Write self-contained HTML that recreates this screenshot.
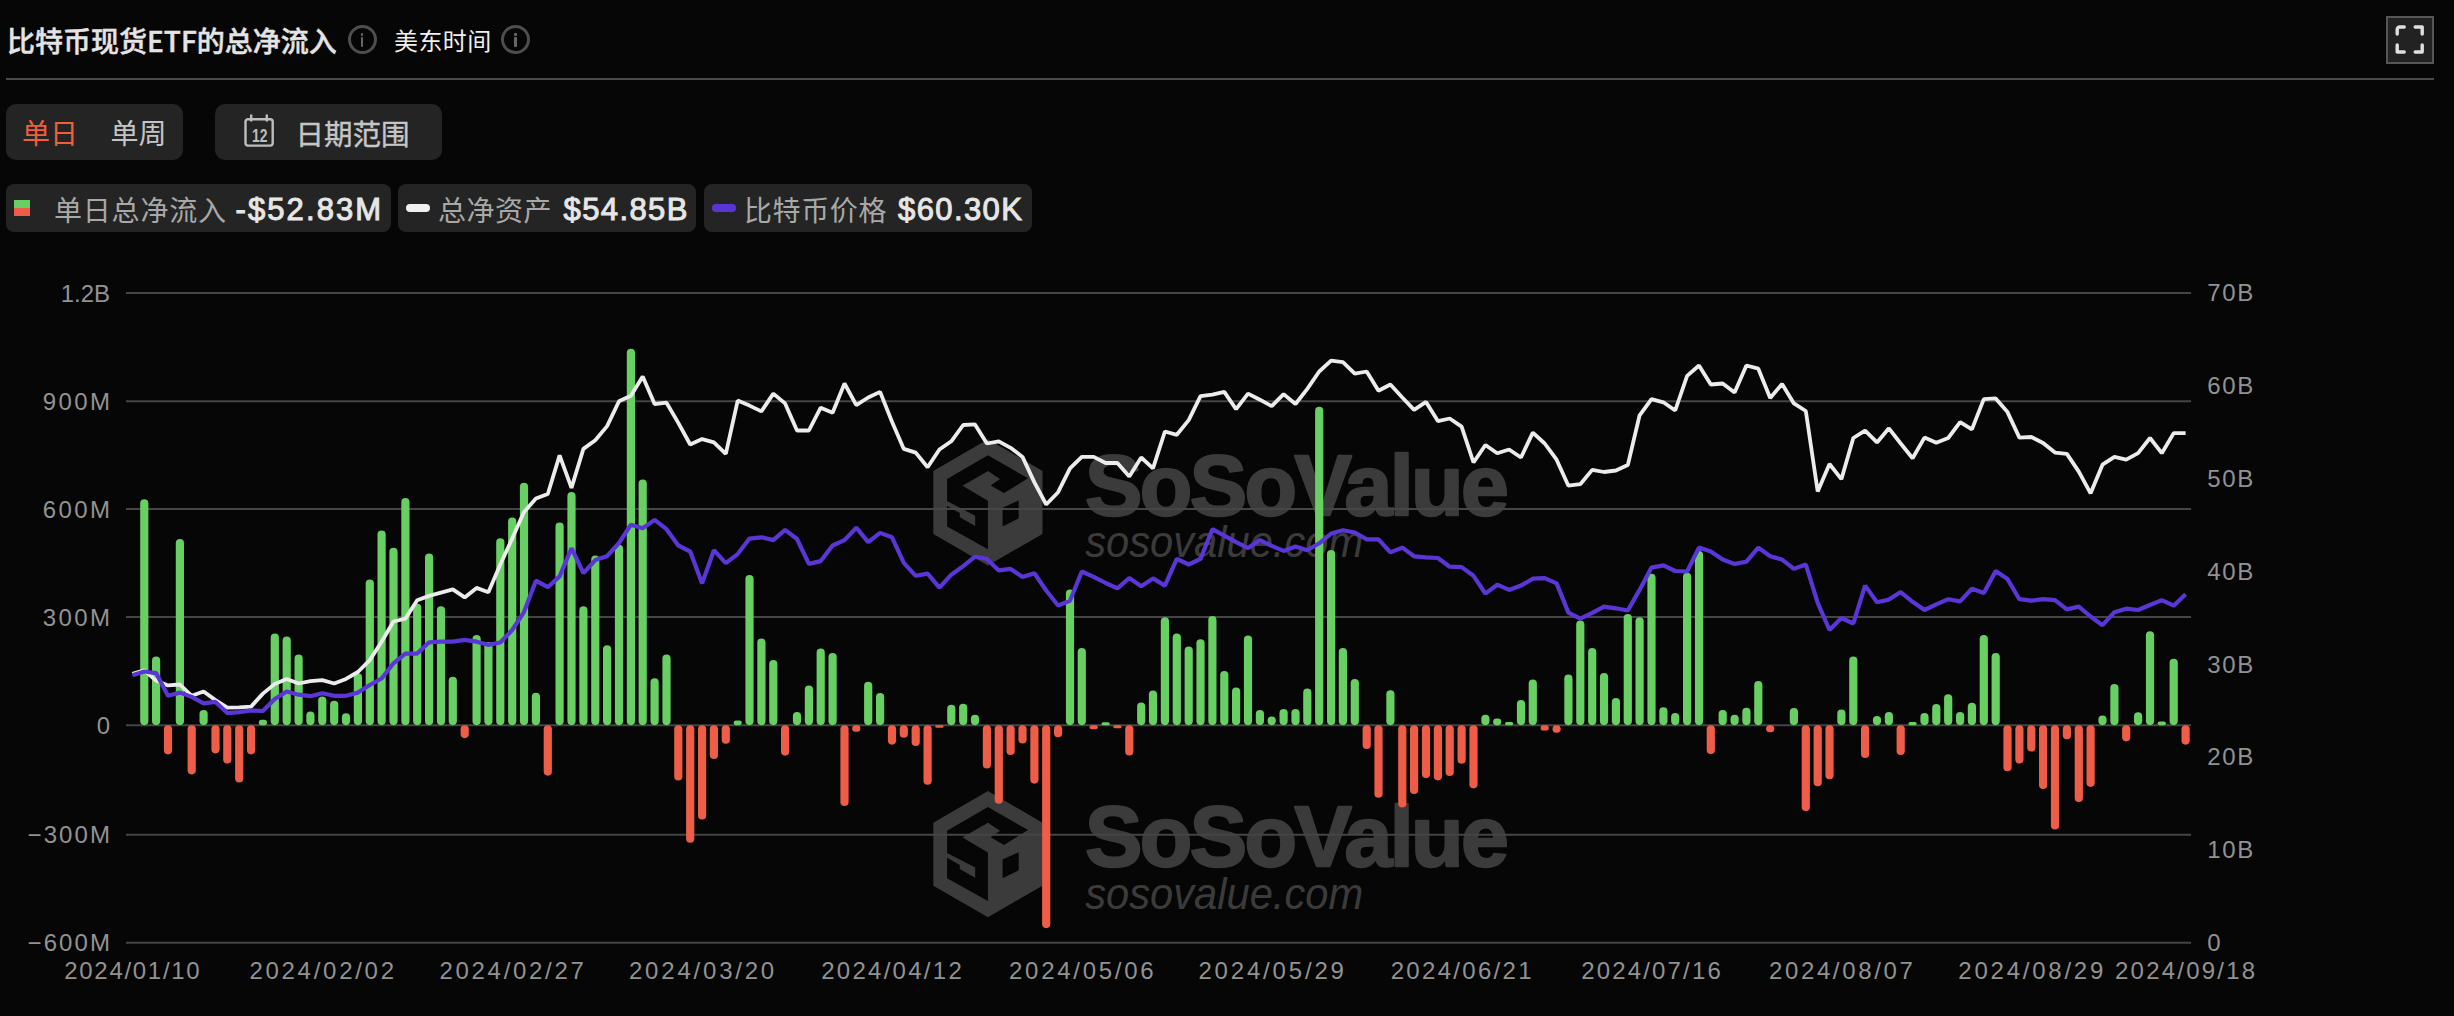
<!DOCTYPE html>
<html lang="zh-CN"><head><meta charset="utf-8"><title>比特币现货ETF的总净流入</title>
<style>
html,body{margin:0;padding:0;background:#060606;}
body{width:2454px;height:1016px;position:relative;overflow:hidden;font-family:"Liberation Sans","Noto Sans CJK SC",sans-serif;color:#eee;}
.abs{position:absolute;white-space:nowrap;}
.title{left:7px;top:20px;font-size:28px;line-height:40px;font-weight:500;-webkit-text-stroke:0.45px #e4e4e4;color:#e4e4e4;font-family:"Noto Sans CJK SC","Liberation Sans",sans-serif;}
.tz{left:394px;top:22px;font-size:24px;line-height:36px;letter-spacing:0.4px;color:#f0f0f0;font-family:"Noto Sans CJK SC","Liberation Sans",sans-serif;}
.info{width:23px;height:23px;border:3px solid #4e4e4e;border-radius:50%;box-sizing:content-box;}
.info i{position:absolute;left:10.2px;width:2.6px;background:#666;border-radius:1px;}
.hr{left:6px;top:78px;width:2428px;height:2px;background:#4a4a4a;}
.pill{background:#242424;border-radius:10px;}
.tab{font-size:28px;line-height:55px;font-family:"Noto Sans CJK SC","Liberation Sans",sans-serif;color:#c4c4c4;}
.leg{font-size:28px;line-height:48px;font-family:"Noto Sans CJK SC","Liberation Sans",sans-serif;color:#a8a8a8;}
.val{font-family:"Liberation Sans",sans-serif;font-weight:400;-webkit-text-stroke:1px #e6e6e6;font-size:31px;line-height:48px;color:#e6e6e6;letter-spacing:2.1px;}
</style></head><body>
<svg width="2454" height="1016" viewBox="0 0 2454 1016" style="position:absolute;left:0;top:0">
<g><polygon points="987.9,439.2 1042.5,471.0 1042.5,533.9 987.9,565.4 933.3,533.9 933.3,471.0" fill="#3b3b3b"/><polygon points="987.9,455.3 1028.1,478.3 1004.0,493.1 990.6,485.4 1000.0,479.0 987.9,471.0 962.5,485.7 987.9,500.7 987.9,549.3 947.1,526.5 947.1,506.0 959.8,513.1 959.8,517.2 975.2,525.9 975.2,515.8 947.1,501.1 947.1,479.0" fill="#060606"/><polygon points="1002.6,507.8 1018.7,500.4 1018.7,518.5 1002.6,526.5" fill="#060606"/><text x="1084.9" y="514.5" font-family="Liberation Sans, sans-serif" font-weight="700" font-size="86" fill="#3b3b3b" stroke="#3b3b3b" stroke-width="2.4" stroke-linejoin="round" textLength="424" lengthAdjust="spacing">SoSoValue</text><text x="1085.2" y="556.8" font-family="Liberation Sans, sans-serif" font-style="italic" font-size="44" fill="#3b3b3b" textLength="278" lengthAdjust="spacingAndGlyphs">sosovalue.com</text><polygon points="987.9,791.0 1042.5,822.8 1042.5,885.7 987.9,917.2 933.3,885.7 933.3,822.8" fill="#3b3b3b"/><polygon points="987.9,807.1 1028.1,830.1 1004.0,844.9 990.6,837.2 1000.0,830.8 987.9,822.8 962.5,837.5 987.9,852.5 987.9,901.1 947.1,878.3 947.1,857.8 959.8,864.9 959.8,869.0 975.2,877.7 975.2,867.6 947.1,852.9 947.1,830.8" fill="#060606"/><polygon points="1002.6,859.6 1018.7,852.2 1018.7,870.3 1002.6,878.3" fill="#060606"/><text x="1084.9" y="866.3" font-family="Liberation Sans, sans-serif" font-weight="700" font-size="86" fill="#3b3b3b" stroke="#3b3b3b" stroke-width="2.4" stroke-linejoin="round" textLength="424" lengthAdjust="spacing">SoSoValue</text><text x="1085.2" y="908.6" font-family="Liberation Sans, sans-serif" font-style="italic" font-size="44" fill="#3b3b3b" textLength="278" lengthAdjust="spacingAndGlyphs">sosovalue.com</text></g>
<g stroke="#454545" stroke-width="2">
<line x1="126" y1="293" x2="2191" y2="293"/>
<line x1="126" y1="401.2" x2="2191" y2="401.2"/>
<line x1="126" y1="509" x2="2191" y2="509"/>
<line x1="126" y1="617" x2="2191" y2="617"/>
<line x1="126" y1="725.2" x2="2191" y2="725.2"/>
<line x1="126" y1="834.8" x2="2191" y2="834.8"/>
<line x1="126" y1="942.8" x2="2191" y2="942.8"/>
</g>
<g font-family="Liberation Sans, sans-serif" font-size="24" fill="#929292">
<text x="110.0" y="301.5" text-anchor="end" letter-spacing="0.0">1.2B</text>
<text x="112.4" y="409.7" text-anchor="end" letter-spacing="2.4">900M</text>
<text x="112.4" y="517.5" text-anchor="end" letter-spacing="2.4">600M</text>
<text x="112.4" y="625.5" text-anchor="end" letter-spacing="2.4">300M</text>
<text x="111.7" y="733.7" text-anchor="end" letter-spacing="1.7">0</text>
<text x="112.1" y="843.3" text-anchor="end" letter-spacing="2.1">−300M</text>
<text x="112.1" y="951.3" text-anchor="end" letter-spacing="2.1">−600M</text>
<text x="2207.2" y="301.2" letter-spacing="1.7">70B</text>
<text x="2207.2" y="394.0" letter-spacing="1.7">60B</text>
<text x="2207.2" y="486.9" letter-spacing="1.7">50B</text>
<text x="2207.2" y="579.7" letter-spacing="1.7">40B</text>
<text x="2207.2" y="672.5" letter-spacing="1.7">30B</text>
<text x="2207.2" y="765.3" letter-spacing="1.7">20B</text>
<text x="2207.2" y="858.2" letter-spacing="1.7">10B</text>
<text x="2207.2" y="951.0" letter-spacing="1.7">0</text>
<text x="132.8" y="979.3" text-anchor="middle" letter-spacing="1.70">2024/01/10</text>
<text x="323.1" y="979.3" text-anchor="middle" letter-spacing="2.72">2024/02/02</text>
<text x="513.0" y="979.3" text-anchor="middle" letter-spacing="2.68">2024/02/27</text>
<text x="703.0" y="979.3" text-anchor="middle" letter-spacing="2.79">2024/03/20</text>
<text x="892.6" y="979.3" text-anchor="middle" letter-spacing="2.28">2024/04/12</text>
<text x="1082.7" y="979.3" text-anchor="middle" letter-spacing="2.72">2024/05/06</text>
<text x="1272.6" y="979.3" text-anchor="middle" letter-spacing="2.83">2024/05/29</text>
<text x="1462.3" y="979.3" text-anchor="middle" letter-spacing="2.31">2024/06/21</text>
<text x="1652.1" y="979.3" text-anchor="middle" letter-spacing="2.17">2024/07/16</text>
<text x="1842.2" y="979.3" text-anchor="middle" letter-spacing="2.64">2024/08/07</text>
<text x="2032.2" y="979.3" text-anchor="middle" letter-spacing="2.76">2024/08/29</text>
<text x="2186.2" y="979.3" text-anchor="middle" letter-spacing="2.23">2024/09/18</text>
</g>
<g fill="#68cf63"><rect x="140.2" y="499.2" width="8.2" height="226.0" rx="4.1"/><rect x="152.0" y="656.6" width="8.2" height="68.6" rx="4.1"/><rect x="175.8" y="539.1" width="8.2" height="186.1" rx="4.1"/><rect x="199.5" y="710.0" width="8.2" height="15.2" rx="4.1"/><rect x="258.8" y="719.8" width="8.2" height="5.4" rx="2.7"/><rect x="270.7" y="633.6" width="8.2" height="91.6" rx="4.1"/><rect x="282.6" y="636.4" width="8.2" height="88.8" rx="4.1"/><rect x="294.5" y="654.4" width="8.2" height="70.8" rx="4.1"/><rect x="306.3" y="711.6" width="8.2" height="13.6" rx="4.1"/><rect x="318.2" y="696.4" width="8.2" height="28.8" rx="4.1"/><rect x="330.1" y="700.7" width="8.2" height="24.5" rx="4.1"/><rect x="341.9" y="713.3" width="8.2" height="11.9" rx="4.1"/><rect x="353.8" y="673.2" width="8.2" height="52.0" rx="4.1"/><rect x="365.7" y="579.4" width="8.2" height="145.8" rx="4.1"/><rect x="377.5" y="530.4" width="8.2" height="194.8" rx="4.1"/><rect x="389.4" y="547.8" width="8.2" height="177.4" rx="4.1"/><rect x="401.3" y="498.0" width="8.2" height="227.2" rx="4.1"/><rect x="413.1" y="603.7" width="8.2" height="121.5" rx="4.1"/><rect x="425.0" y="553.4" width="8.2" height="171.8" rx="4.1"/><rect x="436.9" y="606.3" width="8.2" height="118.9" rx="4.1"/><rect x="448.7" y="676.7" width="8.2" height="48.5" rx="4.1"/><rect x="472.5" y="635.0" width="8.2" height="90.2" rx="4.1"/><rect x="484.3" y="642.0" width="8.2" height="83.2" rx="4.1"/><rect x="496.2" y="538.2" width="8.2" height="187.0" rx="4.1"/><rect x="508.1" y="517.5" width="8.2" height="207.7" rx="4.1"/><rect x="519.9" y="482.8" width="8.2" height="242.4" rx="4.1"/><rect x="531.8" y="692.7" width="8.2" height="32.5" rx="4.1"/><rect x="555.5" y="522.4" width="8.2" height="202.8" rx="4.1"/><rect x="567.4" y="492.1" width="8.2" height="233.1" rx="4.1"/><rect x="579.3" y="606.3" width="8.2" height="118.9" rx="4.1"/><rect x="591.2" y="555.6" width="8.2" height="169.6" rx="4.1"/><rect x="603.0" y="645.2" width="8.2" height="80.0" rx="4.1"/><rect x="614.9" y="544.7" width="8.2" height="180.5" rx="4.1"/><rect x="626.8" y="348.8" width="8.2" height="376.4" rx="4.1"/><rect x="638.6" y="479.4" width="8.2" height="245.8" rx="4.1"/><rect x="650.5" y="678.2" width="8.2" height="47.0" rx="4.1"/><rect x="662.4" y="654.4" width="8.2" height="70.8" rx="4.1"/><rect x="733.6" y="720.4" width="8.2" height="4.8" rx="2.4"/><rect x="745.4" y="574.9" width="8.2" height="150.3" rx="4.1"/><rect x="757.3" y="638.4" width="8.2" height="86.8" rx="4.1"/><rect x="769.2" y="660.0" width="8.2" height="65.2" rx="4.1"/><rect x="792.9" y="711.9" width="8.2" height="13.3" rx="4.1"/><rect x="804.8" y="685.4" width="8.2" height="39.8" rx="4.1"/><rect x="816.6" y="648.6" width="8.2" height="76.6" rx="4.1"/><rect x="828.5" y="652.9" width="8.2" height="72.3" rx="4.1"/><rect x="864.1" y="681.7" width="8.2" height="43.5" rx="4.1"/><rect x="876.0" y="692.9" width="8.2" height="32.3" rx="4.1"/><rect x="947.2" y="704.8" width="8.2" height="20.4" rx="4.1"/><rect x="959.1" y="703.7" width="8.2" height="21.5" rx="4.1"/><rect x="970.9" y="714.8" width="8.2" height="10.4" rx="4.1"/><rect x="1065.9" y="589.4" width="8.2" height="135.8" rx="4.1"/><rect x="1077.7" y="647.9" width="8.2" height="77.3" rx="4.1"/><rect x="1101.5" y="722.2" width="8.2" height="3.0" rx="1.5"/><rect x="1137.1" y="702.6" width="8.2" height="22.6" rx="4.1"/><rect x="1148.9" y="690.4" width="8.2" height="34.8" rx="4.1"/><rect x="1160.8" y="617.2" width="8.2" height="108.0" rx="4.1"/><rect x="1172.7" y="633.4" width="8.2" height="91.8" rx="4.1"/><rect x="1184.6" y="646.4" width="8.2" height="78.8" rx="4.1"/><rect x="1196.4" y="639.2" width="8.2" height="86.0" rx="4.1"/><rect x="1208.3" y="616.1" width="8.2" height="109.1" rx="4.1"/><rect x="1220.2" y="670.9" width="8.2" height="54.3" rx="4.1"/><rect x="1232.0" y="687.6" width="8.2" height="37.6" rx="4.1"/><rect x="1243.9" y="635.6" width="8.2" height="89.6" rx="4.1"/><rect x="1255.8" y="709.9" width="8.2" height="15.3" rx="4.1"/><rect x="1267.6" y="716.4" width="8.2" height="8.8" rx="4.1"/><rect x="1279.5" y="709.1" width="8.2" height="16.1" rx="4.1"/><rect x="1291.4" y="708.9" width="8.2" height="16.3" rx="4.1"/><rect x="1303.2" y="688.6" width="8.2" height="36.6" rx="4.1"/><rect x="1315.1" y="406.8" width="8.2" height="318.4" rx="4.1"/><rect x="1327.0" y="550.0" width="8.2" height="175.2" rx="4.1"/><rect x="1338.8" y="647.9" width="8.2" height="77.3" rx="4.1"/><rect x="1350.7" y="678.9" width="8.2" height="46.3" rx="4.1"/><rect x="1386.3" y="690.2" width="8.2" height="35.0" rx="4.1"/><rect x="1481.3" y="714.8" width="8.2" height="10.4" rx="4.1"/><rect x="1493.1" y="718.4" width="8.2" height="6.8" rx="3.4"/><rect x="1505.0" y="722.0" width="8.2" height="3.2" rx="1.6"/><rect x="1516.9" y="700.0" width="8.2" height="25.2" rx="4.1"/><rect x="1528.7" y="679.5" width="8.2" height="45.7" rx="4.1"/><rect x="1564.3" y="674.6" width="8.2" height="50.6" rx="4.1"/><rect x="1576.2" y="620.4" width="8.2" height="104.8" rx="4.1"/><rect x="1588.1" y="647.9" width="8.2" height="77.3" rx="4.1"/><rect x="1599.9" y="673.0" width="8.2" height="52.2" rx="4.1"/><rect x="1611.8" y="697.9" width="8.2" height="27.3" rx="4.1"/><rect x="1623.7" y="613.9" width="8.2" height="111.3" rx="4.1"/><rect x="1635.5" y="617.2" width="8.2" height="108.0" rx="4.1"/><rect x="1647.4" y="573.8" width="8.2" height="151.4" rx="4.1"/><rect x="1659.3" y="707.2" width="8.2" height="18.0" rx="4.1"/><rect x="1671.1" y="713.0" width="8.2" height="12.2" rx="4.1"/><rect x="1683.0" y="572.8" width="8.2" height="152.4" rx="4.1"/><rect x="1694.9" y="551.1" width="8.2" height="174.1" rx="4.1"/><rect x="1718.6" y="709.9" width="8.2" height="15.3" rx="4.1"/><rect x="1730.5" y="714.7" width="8.2" height="10.5" rx="4.1"/><rect x="1742.3" y="707.8" width="8.2" height="17.4" rx="4.1"/><rect x="1754.2" y="681.1" width="8.2" height="44.1" rx="4.1"/><rect x="1789.8" y="708.0" width="8.2" height="17.2" rx="4.1"/><rect x="1837.3" y="709.6" width="8.2" height="15.6" rx="4.1"/><rect x="1849.2" y="656.6" width="8.2" height="68.6" rx="4.1"/><rect x="1872.9" y="715.9" width="8.2" height="9.3" rx="4.1"/><rect x="1884.8" y="712.1" width="8.2" height="13.1" rx="4.1"/><rect x="1908.5" y="722.0" width="8.2" height="3.2" rx="1.6"/><rect x="1920.4" y="713.1" width="8.2" height="12.1" rx="4.1"/><rect x="1932.2" y="703.9" width="8.2" height="21.3" rx="4.1"/><rect x="1944.1" y="694.2" width="8.2" height="31.0" rx="4.1"/><rect x="1956.0" y="712.1" width="8.2" height="13.1" rx="4.1"/><rect x="1967.8" y="702.7" width="8.2" height="22.5" rx="4.1"/><rect x="1979.7" y="634.9" width="8.2" height="90.3" rx="4.1"/><rect x="1991.6" y="652.9" width="8.2" height="72.3" rx="4.1"/><rect x="2098.4" y="715.6" width="8.2" height="9.6" rx="4.1"/><rect x="2110.3" y="683.9" width="8.2" height="41.3" rx="4.1"/><rect x="2134.0" y="712.3" width="8.2" height="12.9" rx="4.1"/><rect x="2145.9" y="631.2" width="8.2" height="94.0" rx="4.1"/><rect x="2157.7" y="721.5" width="8.2" height="3.7" rx="1.9"/><rect x="2169.6" y="658.7" width="8.2" height="66.5" rx="4.1"/></g>
<g fill="#ee5d47"><rect x="163.9" y="725.2" width="8.2" height="29.2" rx="4.1"/><rect x="187.6" y="725.2" width="8.2" height="49.2" rx="4.1"/><rect x="211.4" y="725.2" width="8.2" height="28.2" rx="4.1"/><rect x="223.2" y="725.2" width="8.2" height="38.3" rx="4.1"/><rect x="235.1" y="725.2" width="8.2" height="57.4" rx="4.1"/><rect x="247.0" y="725.2" width="8.2" height="29.2" rx="4.1"/><rect x="460.6" y="725.2" width="8.2" height="13.0" rx="4.1"/><rect x="543.7" y="725.2" width="8.2" height="50.5" rx="4.1"/><rect x="674.2" y="725.2" width="8.2" height="55.4" rx="4.1"/><rect x="686.1" y="725.2" width="8.2" height="117.6" rx="4.1"/><rect x="698.0" y="725.2" width="8.2" height="94.4" rx="4.1"/><rect x="709.8" y="725.2" width="8.2" height="33.8" rx="4.1"/><rect x="721.7" y="725.2" width="8.2" height="18.6" rx="4.1"/><rect x="781.0" y="725.2" width="8.2" height="30.5" rx="4.1"/><rect x="840.4" y="725.2" width="8.2" height="80.8" rx="4.1"/><rect x="852.2" y="725.2" width="8.2" height="6.5" rx="3.2"/><rect x="887.9" y="725.2" width="8.2" height="19.5" rx="4.1"/><rect x="899.7" y="725.2" width="8.2" height="12.6" rx="4.1"/><rect x="911.6" y="725.2" width="8.2" height="20.8" rx="4.1"/><rect x="923.5" y="725.2" width="8.2" height="59.6" rx="4.1"/><rect x="935.3" y="725.2" width="8.2" height="2.5" rx="1.2"/><rect x="982.8" y="725.2" width="8.2" height="43.3" rx="4.1"/><rect x="994.7" y="725.2" width="8.2" height="78.6" rx="4.1"/><rect x="1006.5" y="725.2" width="8.2" height="29.9" rx="4.1"/><rect x="1018.4" y="725.2" width="8.2" height="18.4" rx="4.1"/><rect x="1030.3" y="725.2" width="8.2" height="58.5" rx="4.1"/><rect x="1042.1" y="725.2" width="8.2" height="203.0" rx="4.1"/><rect x="1054.0" y="725.2" width="8.2" height="12.1" rx="4.1"/><rect x="1089.6" y="725.2" width="8.2" height="4.0" rx="2.0"/><rect x="1113.3" y="725.2" width="8.2" height="3.0" rx="1.5"/><rect x="1125.2" y="725.2" width="8.2" height="30.3" rx="4.1"/><rect x="1362.6" y="725.2" width="8.2" height="23.8" rx="4.1"/><rect x="1374.4" y="725.2" width="8.2" height="72.6" rx="4.1"/><rect x="1398.2" y="725.2" width="8.2" height="82.3" rx="4.1"/><rect x="1410.0" y="725.2" width="8.2" height="68.9" rx="4.1"/><rect x="1421.9" y="725.2" width="8.2" height="53.0" rx="4.1"/><rect x="1433.8" y="725.2" width="8.2" height="55.2" rx="4.1"/><rect x="1445.6" y="725.2" width="8.2" height="50.9" rx="4.1"/><rect x="1457.5" y="725.2" width="8.2" height="38.6" rx="4.1"/><rect x="1469.4" y="725.2" width="8.2" height="63.2" rx="4.1"/><rect x="1540.6" y="725.2" width="8.2" height="5.4" rx="2.7"/><rect x="1552.5" y="725.2" width="8.2" height="7.6" rx="3.8"/><rect x="1706.7" y="725.2" width="8.2" height="28.8" rx="4.1"/><rect x="1766.1" y="725.2" width="8.2" height="7.1" rx="3.5"/><rect x="1801.7" y="725.2" width="8.2" height="86.0" rx="4.1"/><rect x="1813.6" y="725.2" width="8.2" height="61.1" rx="4.1"/><rect x="1825.4" y="725.2" width="8.2" height="54.1" rx="4.1"/><rect x="1861.0" y="725.2" width="8.2" height="32.9" rx="4.1"/><rect x="1896.6" y="725.2" width="8.2" height="29.9" rx="4.1"/><rect x="2003.4" y="725.2" width="8.2" height="46.1" rx="4.1"/><rect x="2015.3" y="725.2" width="8.2" height="38.3" rx="4.1"/><rect x="2027.2" y="725.2" width="8.2" height="26.4" rx="4.1"/><rect x="2039.0" y="725.2" width="8.2" height="63.9" rx="4.1"/><rect x="2050.9" y="725.2" width="8.2" height="104.4" rx="4.1"/><rect x="2062.8" y="725.2" width="8.2" height="14.1" rx="4.1"/><rect x="2074.7" y="725.2" width="8.2" height="76.9" rx="4.1"/><rect x="2086.5" y="725.2" width="8.2" height="61.7" rx="4.1"/><rect x="2122.1" y="725.2" width="8.2" height="16.2" rx="4.1"/><rect x="2181.5" y="725.2" width="8.2" height="19.5" rx="4.1"/></g>
<path d="M132.4,673.7 L144.3,670.2 L156.1,680.6 L168.0,685.4 L179.9,684.5 L191.7,695.8 L203.6,691.5 L215.5,700.1 L227.3,707.7 L239.2,707.3 L251.1,706.6 L262.9,693.6 L274.8,683.9 L286.7,678.9 L298.6,683.5 L310.4,681.1 L322.3,680.2 L334.2,683.5 L346.0,678.9 L357.9,672.0 L369.8,660.1 L381.6,641.7 L393.5,621.5 L405.4,618.6 L417.2,600.2 L429.1,595.9 L441.0,592.6 L452.8,589.4 L464.7,597.4 L476.6,587.9 L488.4,592.2 L500.3,564.5 L512.2,538.6 L524.0,512.1 L535.9,498.6 L547.8,494.0 L559.6,455.4 L571.5,487.9 L583.4,448.9 L595.3,440.2 L607.1,426.1 L619.0,401.2 L630.9,395.8 L642.7,376.6 L654.6,404.0 L666.5,402.7 L678.3,422.9 L690.2,444.5 L702.1,439.1 L713.9,442.4 L725.8,453.9 L737.7,400.6 L749.5,405.6 L761.4,411.4 L773.3,393.6 L785.1,403.4 L797.0,430.5 L808.9,430.5 L820.7,407.7 L832.6,412.7 L844.5,383.5 L856.3,405.1 L868.2,397.5 L880.1,391.9 L892.0,421.8 L903.8,448.9 L915.7,452.6 L927.6,467.3 L939.4,449.5 L951.3,441.3 L963.2,425.0 L975.0,424.4 L986.9,443.5 L998.8,441.3 L1010.6,447.8 L1022.5,456.9 L1034.4,482.4 L1046.2,504.5 L1058.1,492.2 L1070.0,468.4 L1081.8,456.9 L1093.7,456.9 L1105.6,463.0 L1117.4,463.0 L1129.3,476.4 L1141.2,457.5 L1153.0,468.4 L1164.9,431.5 L1176.8,434.8 L1188.7,420.1 L1200.5,396.2 L1212.4,394.7 L1224.3,391.9 L1236.1,409.2 L1248.0,393.6 L1259.9,399.7 L1271.7,406.2 L1283.6,394.1 L1295.5,404.0 L1307.3,388.9 L1319.2,371.5 L1331.1,360.7 L1342.9,362.2 L1354.8,373.7 L1366.7,371.5 L1378.5,390.7 L1390.4,384.5 L1402.3,397.5 L1414.1,409.9 L1426.0,401.9 L1437.9,421.1 L1449.7,418.5 L1461.6,426.6 L1473.5,462.5 L1485.4,445.0 L1497.2,453.2 L1509.1,449.5 L1521.0,457.5 L1532.8,432.6 L1544.7,443.5 L1556.6,459.7 L1568.4,485.7 L1580.3,484.2 L1592.2,469.9 L1604.0,472.0 L1615.9,470.5 L1627.8,465.1 L1639.6,415.3 L1651.5,399.1 L1663.4,402.3 L1675.2,410.5 L1687.1,375.9 L1699.0,365.5 L1710.8,384.5 L1722.7,383.5 L1734.6,392.6 L1746.4,365.5 L1758.3,368.7 L1770.2,398.0 L1782.1,383.9 L1793.9,403.4 L1805.8,411.0 L1817.7,491.5 L1829.5,464.0 L1841.4,479.2 L1853.3,438.0 L1865.1,430.7 L1877.0,442.4 L1888.9,428.3 L1900.7,443.5 L1912.6,458.2 L1924.5,437.6 L1936.3,442.8 L1948.2,438.0 L1960.1,422.2 L1971.9,429.4 L1983.8,399.1 L1995.7,398.4 L2007.5,412.1 L2019.4,437.6 L2031.3,437.0 L2043.1,443.0 L2055.0,452.6 L2066.9,453.9 L2078.8,471.6 L2090.6,493.3 L2102.5,464.7 L2114.4,456.9 L2126.2,459.7 L2138.1,453.2 L2150.0,438.0 L2161.8,453.2 L2173.7,433.1 L2185.6,433.1" fill="none" stroke="#ececec" stroke-width="3.8" stroke-linejoin="bevel" stroke-linecap="butt"/>
<path d="M132.4,675.2 L144.3,671.5 L156.1,673.1 L168.0,695.8 L179.9,692.6 L191.7,696.9 L203.6,703.4 L215.5,701.9 L227.3,713.1 L239.2,712.1 L251.1,710.5 L262.9,711.0 L274.8,699.1 L286.7,691.5 L298.6,694.7 L310.4,696.2 L322.3,693.2 L334.2,695.8 L346.0,695.8 L357.9,692.6 L369.8,685.0 L381.6,678.5 L393.5,663.3 L405.4,653.6 L417.2,653.6 L429.1,642.3 L441.0,641.7 L452.8,641.7 L464.7,639.9 L476.6,641.7 L488.4,644.9 L500.3,642.5 L512.2,630.0 L524.0,612.1 L535.9,580.7 L547.8,587.2 L559.6,576.4 L571.5,548.2 L583.4,573.1 L595.3,560.1 L607.1,556.2 L619.0,543.0 L630.9,524.7 L642.7,528.2 L654.6,519.9 L666.5,529.2 L678.3,545.5 L690.2,551.5 L702.1,583.4 L713.9,550.2 L725.8,563.2 L737.7,554.1 L749.5,538.6 L761.4,537.3 L773.3,540.1 L785.1,529.9 L797.0,539.0 L808.9,563.9 L820.7,561.1 L832.6,545.5 L844.5,540.1 L856.3,527.7 L868.2,542.2 L880.1,532.9 L892.0,537.3 L903.8,562.8 L915.7,575.8 L927.6,573.6 L939.4,587.7 L951.3,574.7 L963.2,566.1 L975.0,556.7 L986.9,558.9 L998.8,570.4 L1010.6,568.9 L1022.5,576.9 L1034.4,573.2 L1046.2,590.5 L1058.1,605.5 L1070.0,600.7 L1081.8,571.5 L1093.7,576.9 L1105.6,583.0 L1117.4,588.4 L1129.3,578.0 L1141.2,586.2 L1153.0,578.4 L1164.9,585.6 L1176.8,558.9 L1188.7,564.5 L1200.5,558.9 L1212.4,529.2 L1224.3,535.7 L1236.1,542.2 L1248.0,548.1 L1259.9,540.1 L1271.7,545.9 L1283.6,550.9 L1295.5,546.6 L1307.3,550.2 L1319.2,543.3 L1331.1,533.6 L1342.9,530.3 L1354.8,532.5 L1366.7,539.4 L1378.5,539.4 L1390.4,552.4 L1402.3,547.6 L1414.1,556.3 L1426.0,557.4 L1437.9,558.0 L1449.7,566.7 L1461.6,567.1 L1473.5,575.8 L1485.4,593.6 L1497.2,584.7 L1509.1,589.9 L1521.0,585.6 L1532.8,578.7 L1544.7,578.2 L1556.6,583.4 L1568.4,612.6 L1580.3,618.7 L1592.2,612.9 L1604.0,606.6 L1615.9,608.3 L1627.8,610.5 L1639.6,589.9 L1651.5,567.6 L1663.4,565.4 L1675.2,571.0 L1687.1,571.5 L1699.0,547.6 L1710.8,551.5 L1722.7,559.6 L1734.6,563.9 L1746.4,561.7 L1758.3,547.6 L1770.2,556.3 L1782.1,559.6 L1793.9,568.9 L1805.8,564.5 L1817.7,602.9 L1829.5,630.0 L1841.4,618.0 L1853.3,623.5 L1865.1,585.6 L1877.0,602.2 L1888.9,599.6 L1900.7,592.1 L1912.6,601.8 L1924.5,610.0 L1936.3,604.4 L1948.2,599.2 L1960.1,601.4 L1971.9,588.8 L1983.8,593.1 L1995.7,571.0 L2007.5,579.1 L2019.4,599.2 L2031.3,600.7 L2043.1,599.2 L2055.0,600.1 L2066.9,609.4 L2078.8,606.6 L2090.6,616.5 L2102.5,625.2 L2114.4,612.2 L2126.2,608.7 L2138.1,610.0 L2150.0,605.0 L2161.8,600.1 L2173.7,605.7 L2185.6,594.2" fill="none" stroke="#5b36d6" stroke-width="4.2" stroke-linejoin="bevel" stroke-linecap="butt"/>
</svg>
<div class="abs title">比特币现货ETF的总净流入</div>
<div class="abs info" style="left:347.5px;top:25.2px"><i style="top:4.8px;height:2.6px"></i><i style="top:9.2px;height:9.2px"></i></div>
<div class="abs tz">美东时间</div>
<div class="abs info" style="left:501.2px;top:25.2px"><i style="top:4.8px;height:2.6px"></i><i style="top:9.2px;height:9.2px"></i></div>
<div class="abs" style="left:2386px;top:16px;width:44px;height:44px;border:2px solid #565656;background:#222;">
<svg width="44" height="44" viewBox="0 0 44 44" style="position:absolute;left:0;top:0"><g fill="none" stroke="#e0e0e0" stroke-width="3.4" stroke-linecap="round" stroke-linejoin="round" transform="translate(-0.3,-0.5)"><path d="M9.5 16.5V12a2.5 2.5 0 0 1 2.5-2.5H16.5"/><path d="M27.5 9.5H34.5V16.5"/><path d="M9.5 27.5V34.5H16.5"/><path d="M34.5 27.5V34.5H27.5"/></g></svg>
</div>
<div class="abs hr"></div>

<div class="abs pill" style="left:6px;top:104px;width:177px;height:56px"></div>
<div class="abs tab" style="left:22px;top:104.8px;color:#ef5f3a">单日</div>
<div class="abs tab" style="left:110.5px;top:104.8px">单周</div>
<div class="abs pill" style="left:215px;top:104px;width:227px;height:56px"></div>
<svg class="abs" style="left:243px;top:114px" width="32" height="34" viewBox="0 0 32 34"><g fill="none" stroke="#bdbdbd" stroke-width="2.4" stroke-linejoin="round" stroke-linecap="butt"><rect x="2.5" y="5.2" width="27.2" height="26.4" rx="2.5"/><path d="M8.2 0.600V7.500M23.800 0.600V7.500"/></g><text x="9" y="28.300" font-family="Liberation Sans, sans-serif" font-weight="700" font-size="18.500" fill="#bdbdbd" textLength="15.500" lengthAdjust="spacingAndGlyphs">12</text></svg>
<div class="abs tab" style="left:295.5px;top:104.5px;font-size:28.5px;font-weight:400;-webkit-text-stroke:0.4px #c6c6c6;color:#c6c6c6">日期范围</div>

<div class="abs pill" style="left:6px;top:184px;width:384.5px;height:48px;border-radius:8px"></div>
<div class="abs" style="left:14px;top:200px;width:16px;height:8px;background:#68cf63"></div>
<div class="abs" style="left:14px;top:208px;width:16px;height:8px;background:#ee5d47"></div>
<div class="abs leg" style="left:54px;top:185px;letter-spacing:0.8px">单日总净流入</div>
<div class="abs val" style="left:235.5px;top:186px">-$52.83M</div>

<div class="abs pill" style="left:398px;top:184px;width:298px;height:48px;border-radius:8px"></div>
<div class="abs" style="left:406px;top:204px;width:24px;height:8px;border-radius:4px;background:#f0f0f0"></div>
<div class="abs leg" style="left:438px;top:185px;letter-spacing:0.5px">总净资产</div>
<div class="abs val" style="left:563.5px;top:186px;letter-spacing:1.4px">$54.85B</div>

<div class="abs pill" style="left:704px;top:184px;width:328px;height:48px;border-radius:8px"></div>
<div class="abs" style="left:712px;top:204px;width:24px;height:8px;border-radius:4px;background:#5b36d6"></div>
<div class="abs leg" style="left:744px;top:185px;letter-spacing:0.6px">比特币价格</div>
<div class="abs val" style="left:898px;top:186px;letter-spacing:1.4px">$60.30K</div>
</body></html>
